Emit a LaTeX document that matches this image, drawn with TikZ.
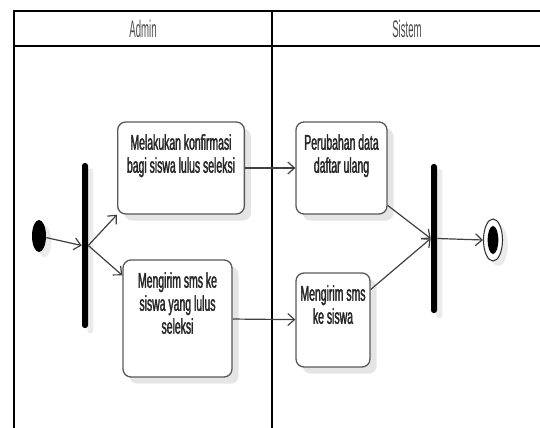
\documentclass[tikz,border=0pt]{standalone}
\usepackage{fontspec}
\newfontfamily\narrowfont[FakeStretch=0.49, FakeBold=1.6]{Liberation Sans}
\newfontfamily\lanefont[FakeStretch=0.4]{Liberation Sans}
\usetikzlibrary{shapes.geometric}
\usetikzlibrary{shadows}
\usetikzlibrary{arrows.meta}
\tikzstyle{activity}=[x=0.75pt, y=-0.75pt, >={Straight Barb[length=5pt,width=9pt]}, font=\narrowfont\fontsize{16}{17.25}\selectfont, text=black!85]
\tikzstyle{lane}=[line width=1.5pt, draw=black]
\tikzstyle{lanename}=[font=\lanefont\fontsize{18}{20}\selectfont, text=black!70]
\tikzstyle{act}=[rectangle, rounded corners=6pt, draw=black!65, line width=1pt, fill=white, inner sep=0pt, drop shadow={shadow xshift=5pt, shadow yshift=-5pt, fill=black!10, opacity=1}]
\tikzstyle{acttext}=[anchor=north, yshift=-9.5pt, inner sep=0pt, align=center]
\tikzstyle{bar}=[rectangle, rounded corners=2pt, fill=black, inner sep=0pt, minimum width=4.5pt, drop shadow={shadow xshift=4pt, shadow yshift=-4pt, fill=black!8, opacity=1}]
\tikzstyle{start}=[ellipse, fill=black, inner sep=0pt, minimum width=10.5pt, minimum height=24pt, drop shadow={shadow xshift=4pt, shadow yshift=-4pt, fill=black!8, opacity=1}]
\tikzstyle{stop}=[ellipse, draw=black!80, line width=0.8pt, fill=white, inner sep=0pt, minimum width=14.25pt, minimum height=31.5pt, path picture={\fill[black] (path picture bounding box.center) ellipse (4pt and 10.5pt);}, drop shadow={shadow xshift=4pt, shadow yshift=-4pt, fill=black!8, opacity=1}]
\tikzstyle{flow}=[->, draw=black!75, line width=0.9pt]
\begin{document}
\begin{tikzpicture}[activity]
	\useasboundingbox (0,0) rectangle (540,428);
	%The swimlanes
	\draw[lane] (14,428) -- (14,11) -- (540,11);
	\draw[lane] (14,46) -- (540,46);
	\draw[lane] (272,11) -- (272,428);
	\draw (143,29) node[lanename] (admin) {Admin};
	\draw (407,29) node[lanename] (sistem) {Sistem};

	%Start and fork
	\draw (39,236) node[start] (init) {};
	\draw (85,245.5) node[bar, minimum height=123.75pt] (fork) {};

	%Admin activities
	\draw (181,168) node[act, minimum width=95pt, minimum height=69pt, label={[acttext]north:{Melakukan konfirmasi\\bagi siswa lulus seleksi}}] (b1) {};
	\draw (177.5,318.5) node[act, minimum width=81.75pt, minimum height=87.75pt, label={[acttext]north:{Mengirim sms ke\\siswa yang lulus\\seleksi}}] (b2) {};

	%Sistem activities
	\draw (341.5,168) node[act, minimum width=68.25pt, minimum height=69pt, label={[acttext]north:{Perubahan data\\daftar ulang}}] (b3) {};
	\draw (333,320) node[act, minimum width=55.5pt, minimum height=70.5pt, label={[acttext]north:{Mengirim sms\\ke siswa}}] (b4) {};

	%Join and end
	\draw (434,238.5) node[bar, minimum height=111.75pt] (join) {};
	\draw (493,240) node[stop] (final) {};

	%The flows
	\draw[flow] (init) -- (fork.west);
	\draw[flow] (fork.east) -- (b1.south west);
	\draw[flow] (fork.east) -- (b2.142);
	\draw[flow] (b1) -- (b3);
	\draw[flow] (b2) -- (b4);
	\draw[flow] (b3.-39) -- (join.west);
	\draw[flow] (b4.39) -- (join.west);
	\draw[flow] (join.east) -- (final.west);
\end{tikzpicture}
\end{document}
